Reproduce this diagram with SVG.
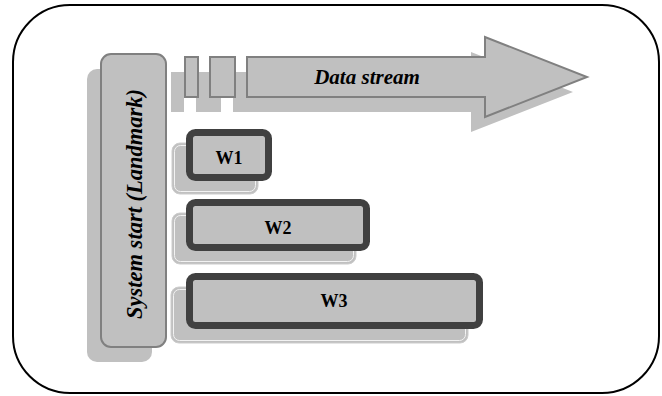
<svg xmlns="http://www.w3.org/2000/svg" width="662" height="396" viewBox="0 0 662 396">
  <style>
    .shade { fill: #c0c0c0; }
    .soft { fill: #c0c0c0; stroke: #808080; stroke-width: 2; }
    .win { fill: #c0c0c0; stroke: #404040; stroke-width: 7; }
    .ghost { fill: #c0c0c0; stroke: #cccccc; stroke-width: 1; }
    .ghost-line { fill: none; stroke: #f2f2f2; stroke-width: 1; }
    .lbl { font-family: "Liberation Serif", "Times New Roman", serif; font-weight: bold; fill: #000; }
    .it { font-style: italic; }
  </style>

  <!-- outer frame -->
  <rect x="13" y="5" width="646" height="388" rx="57" ry="57" fill="#fff" stroke="#000" stroke-width="2"/>

  <!-- landmark bar -->
  <g id="landmark">
    <rect class="shade" x="87" y="69" width="65" height="293" rx="10"/>
    <rect class="soft" x="101" y="54" width="65" height="293" rx="10"/>
    <text class="lbl it" font-size="22.5" text-anchor="middle" transform="translate(142 204) rotate(-90)">System start (Landmark)</text>
  </g>

  <!-- data stream -->
  <g id="stream">
    <rect class="shade" x="171" y="72" width="13" height="40"/>
    <rect class="shade" x="196" y="72" width="25" height="40"/>
    <path class="shade" d="M233,72 H471 V52 L573,92 L471,132 V112 H233 Z"/>
    <rect class="soft" x="185" y="57" width="13" height="40"/>
    <rect class="soft" x="210" y="57" width="25" height="40"/>
    <path class="soft" d="M247,57 H485 V37 L587,77 L485,117 V97 H247 Z"/>
    <text class="lbl it" x="367" y="84" font-size="21" text-anchor="middle">Data stream</text>
  </g>

  <!-- windows -->
  <g id="w1">
    <rect class="ghost" x="172" y="143" width="86" height="51" rx="8"/>
    <rect class="ghost-line" x="174.5" y="145.5" width="81" height="46" rx="6"/>
    <rect class="win" x="189.5" y="132.5" width="79" height="45" rx="6"/>
    <text class="lbl" x="229" y="164" font-size="18" text-anchor="middle">W1</text>
  </g>

  <g id="w2">
    <rect class="ghost" x="172" y="213" width="184" height="51" rx="8"/>
    <rect class="ghost-line" x="174.5" y="215.5" width="179" height="46" rx="6"/>
    <rect class="win" x="189.5" y="202.5" width="177" height="45" rx="6"/>
    <text class="lbl" x="278" y="234" font-size="18" text-anchor="middle">W2</text>
  </g>

  <g id="w3">
    <rect class="ghost" x="171" y="287" width="297" height="56" rx="8"/>
    <rect class="ghost-line" x="173.5" y="289.5" width="292" height="51" rx="6"/>
    <rect class="win" x="189.5" y="276.5" width="290" height="49" rx="6"/>
    <text class="lbl" x="334" y="307" font-size="18" text-anchor="middle">W3</text>
  </g>

  <g id="connectors"/>
</svg>
